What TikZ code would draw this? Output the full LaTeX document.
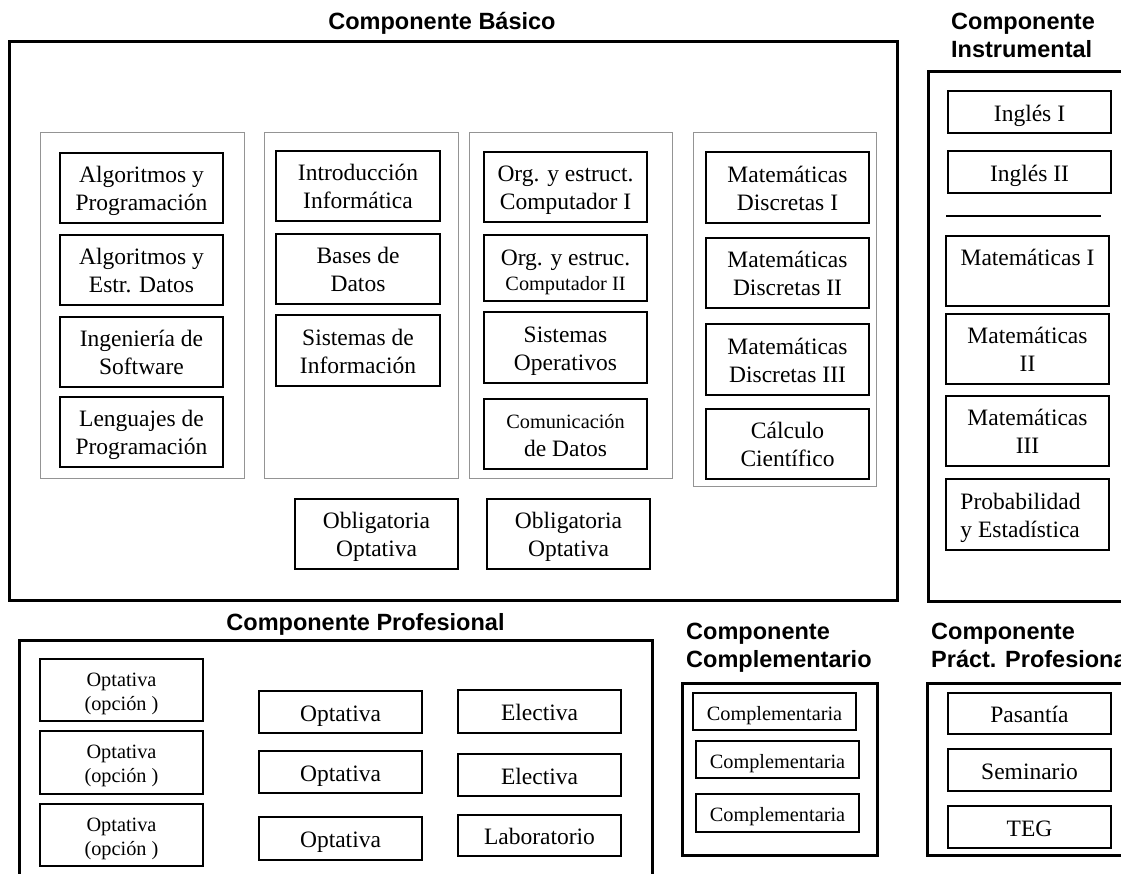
\documentclass[tikz,border=0pt]{standalone}
\usepackage{fontspec}
\setmainfont{Liberation Serif}
\newfontfamily\hdfam{Liberation Sans}
\newcommand\cbsmall{\fontsize{20.3}{24}\selectfont}
\newcommand\cbbox[7]{%
  \pgfmathsetmacro\cbw{#5-#3}%
  \pgfmathsetmacro\cbh{#6-#4}%
  \node[#1, minimum width=\cbw pt, minimum height=\cbh pt] (#2) at ({(#3+#5)/2},{(#4+#6)/2}) {#7};}
\tikzset{
  course/.style={draw, line width=1.5pt, inner sep=0pt, align=center, font=\fontsize{23.5}{28}\selectfont},
  one/.style={course, text height=21pt, text depth=3pt},
  two/.style={course, text height=45pt, text depth=0pt},
  smallcourse/.style={course, font=\cbsmall},
  smallone/.style={smallcourse, text height=19pt, text depth=2pt},
  smalltwo/.style={smallcourse, text height=40pt, text depth=0pt},
  outer/.style={draw, line width=3pt, inner sep=0pt},
  grp/.style={draw=black!42, line width=1pt, inner sep=0pt},
  head/.style={font=\hdfam\bfseries\fontsize{23.5}{28}\selectfont, inner sep=0pt},
  sep/.style={line width=1.5pt}
}
\begin{document}
\begin{tikzpicture}[x=1pt,y=-1pt]
\useasboundingbox (0,0) rectangle (1121,873);
\fill[white] (0,0) rectangle (1121,873);
\clip (0,0) rectangle (1121,873);

% ---------- Componente Basico ----------
\node[head, anchor=base] (hbas) at (442,29) {Componente Básico};
\cbbox{outer}{bas}{9}{41}{897}{600}{}
\cbbox{grp}{g1}{40}{132}{244}{478}{}
\cbbox{grp}{g2}{264}{132}{458}{478}{}
\cbbox{grp}{g3}{469}{132}{672}{478}{}
\cbbox{grp}{g4}{693}{132}{876}{486}{}

\cbbox{two}{a1}{60}{153}{223}{223}{Algoritmos y\\Programación}
\cbbox{two}{a2}{60}{235}{223}{305}{Algoritmos y\\Estr. Datos}
\cbbox{two}{a3}{60}{317}{223}{387}{Ingeniería de\\Software}
\cbbox{two}{a4}{60}{397}{223}{467}{Lenguajes de\\Programación}

\cbbox{two}{b1}{276}{151}{440}{221}{Introducción\\Informática}
\cbbox{two}{b2}{276}{234}{440}{304}{Bases de\\Datos}
\cbbox{two}{b3}{276}{315}{440}{386}{Sistemas de\\Información}

\cbbox{two}{c1}{484}{152}{647}{222}{Org. y estruct.\\Computador I}
\cbbox{two}{c2}{484}{235}{647}{301}{Org. y estruc.\\[-3pt]{\cbsmall Computador II}}
\cbbox{two}{c3}{484}{312}{647}{383}{Sistemas\\Operativos}
\cbbox{two}{c4}{484}{399}{647}{469}{{\cbsmall Comunicación}\\de Datos}

\cbbox{two}{d1}{706}{152}{869}{223}{Matemáticas\\Discretas I}
\cbbox{two}{d2}{706}{238}{869}{308}{Matemáticas\\Discretas II}
\cbbox{two}{d3}{706}{324}{869}{395}{Matemáticas\\Discretas III}
\cbbox{two}{d4}{706}{409}{869}{479}{Cálculo\\Científico}

\cbbox{two}{o1}{295}{499}{458}{569}{Obligatoria\\Optativa}
\cbbox{two}{o2}{487}{499}{650}{569}{Obligatoria\\Optativa}

% ---------- Componente Instrumental ----------
\node[head, anchor=base west] (hins1) at (951,29) {Componente};
\node[head, anchor=base west] (hins2) at (951,57) {Instrumental};
\cbbox{outer}{ins}{928}{71}{1150}{601}{}
\cbbox{one}{i1}{948}{91}{1111}{133}{Inglés I}
\cbbox{one}{i2}{948}{151}{1111}{193}{Inglés II}
\coordinate (sepA) at (946,216);
\coordinate (sepB) at (1101,216);
\draw[sep] (sepA) -- (sepB);
\cbbox{two}{i3}{946}{236}{1109}{306}{Matemáticas I\\~}
\cbbox{two}{i4}{946}{314}{1109}{384}{Matemáticas\\II}
\cbbox{two}{i5}{946}{396}{1109}{466}{Matemáticas\\III}
\cbbox{two,align=left}{i6}{946}{479}{1109}{550}{Probabilidad\hspace*{14pt}\\y Estadística}

% ---------- Componente Profesional ----------
\node[head, anchor=base] (hpro) at (365.5,630) {Componente Profesional};
\cbbox{outer}{pro}{19}{640}{652}{920}{}
\cbbox{smalltwo}{p1}{40}{659}{203}{721}{Optativa\\(opción )}
\cbbox{smalltwo}{p2}{40}{731}{203}{794}{Optativa\\(opción )}
\cbbox{smalltwo}{p3}{40}{804}{203}{866}{Optativa\\(opción )}
\cbbox{one}{q1}{259}{691}{422}{733}{Optativa}
\cbbox{one}{q2}{259}{751}{422}{793}{Optativa}
\cbbox{one}{q3}{259}{817}{422}{860}{Optativa}
\cbbox{one}{e1}{458}{690}{621}{733}{Electiva}
\cbbox{one}{e2}{458}{754}{621}{796}{Electiva}
\cbbox{one}{e3}{458}{815}{621}{856}{Laboratorio}

% ---------- Componente Complementario ----------
\node[head, anchor=base west] (hcom1) at (686,639) {Componente};
\node[head, anchor=base west] (hcom2) at (686,667) {Complementario};
\cbbox{outer}{com}{682}{683}{877}{855}{}
\cbbox{smallone}{k1}{693}{693}{856}{730}{Complementaria}
\cbbox{smallone}{k2}{696}{741}{859}{778}{Complementaria}
\cbbox{smallone}{k3}{696}{794}{859}{832}{Complementaria}

% ---------- Componente Pract. Profesional ----------
\node[head, anchor=base west] (hpp1) at (931,639) {Componente};
\node[head, anchor=base west] (hpp2) at (931,667) {Práct. Profesional};
\cbbox{outer}{pp}{927}{683}{1150}{855}{}
\cbbox{one}{r1}{948}{693}{1111}{734}{Pasantía}
\cbbox{one}{r2}{948}{749}{1111}{791}{Seminario}
\cbbox{one}{r3}{948}{806}{1111}{848}{TEG}
\end{tikzpicture}
\end{document}
